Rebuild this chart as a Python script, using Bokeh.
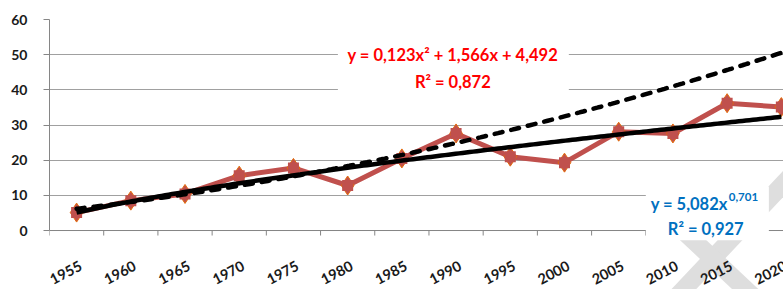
import numpy as np
from bokeh.plotting import figure
from bokeh.models import (Range1d, FixedTicker, Label, BoxAnnotation, PolyAnnotation)
from bokeh.core.properties import value
from bokeh.embed import file_html
from bokeh.resources import INLINE

# ---- data ----
years = ["1955", "1960", "1965", "1970", "1975", "1980", "1985",
         "1990", "1995", "2000", "2005", "2010", "2015", "2020"]
values = [5.1, 8.5, 10.4, 15.6, 17.8, 12.8, 20.5,
          27.6, 21.0, 19.3, 28.1, 27.6, 36.2, 35.1]
y_ticks = [0, 10, 20, 30, 40, 50, 60]

# trendline coefficients (as printed on the chart)
poly_a, poly_b, poly_c = 0.123, 1.566, 4.492
pow_a, pow_b = 5.082, 0.701

x_idx = list(range(1, len(years) + 1))
tx = np.linspace(1, len(years), 200)
poly_y = poly_a * tx ** 2 + poly_b * tx + poly_c
pow_y = pow_a * tx ** pow_b

FONT = "Lato"
RED = "#C0504D"
AXIS = "#868686"

# pixel scale helpers (decoration / layout only)
PX_PER_X = 54.2
PX_PER_Y = 3.517
Y_LOW = -270 / PX_PER_Y + 60   # frame extends below 0 to hold the category labels

p = figure(width=783, height=289, x_range=Range1d(0.5, 14.04), y_range=Range1d(Y_LOW, 60),
           output_backend="svg", toolbar_location=None, x_axis_location=None,
           min_border_left=49, min_border_right=0, min_border_top=19, min_border_bottom=0)
p.outline_line_color = None
p.background_fill_color = "white"
p.border_fill_color = "white"

# y axis
p.yaxis.ticker = FixedTicker(ticks=y_ticks)
p.yaxis.bounds = (0, 60)
p.yaxis.axis_line_color = AXIS
p.yaxis.major_tick_line_color = AXIS
p.yaxis.major_tick_out = 6
p.yaxis.major_tick_in = 0
p.yaxis.minor_tick_line_color = None
p.yaxis.major_label_standoff = 16
p.yaxis.major_label_text_font = FONT
p.yaxis.major_label_text_font_size = "14px"
p.yaxis.major_label_text_font_style = "bold"
p.yaxis.major_label_text_color = "#1a1a1a"

p.ygrid.ticker = FixedTicker(ticks=y_ticks)
p.ygrid.grid_line_color = "#A0A0A0"
p.xgrid.grid_line_color = None

# ---- watermark (decoration, page-pixel geometry converted to data units) ----
def to_data(px, py):
    return 1 + (px - 76) / PX_PER_X, (230 - py) / PX_PER_Y

def band(cx, cy, dx, dy, t0, t1, hw):
    n = np.hypot(dx, dy)
    ux, uy = dx / n, dy / n
    nx, ny = -uy, ux
    pts = [(cx + ux * t0 + nx * hw, cy + uy * t0 + ny * hw),
           (cx + ux * t1 + nx * hw, cy + uy * t1 + ny * hw),
           (cx + ux * t1 - nx * hw, cy + uy * t1 - ny * hw),
           (cx + ux * t0 - nx * hw, cy + uy * t0 - ny * hw)]
    d = [to_data(a, b) for a, b in pts]
    return [q[0] for q in d], [q[1] for q in d]

for (dx, dy, t0, t1) in [(1, -1.06, -60, 140), (1, 0.94, -40, 60)]:
    bx, by = band(712, 258, dx, dy, t0, t1, 9)
    p.add_layout(PolyAnnotation(xs=bx, ys=by, fill_color="#DEDEDE", fill_alpha=1.0,
                                line_color=None, level="underlay"))

# ---- category axis: line, ticks between categories, rotated labels ----
bounds = [i + 0.5 for i in range(0, len(years) + 1)]
tick_len = 5 / PX_PER_Y
p.segment(x0=[0.5], y0=[0], x1=[len(years) + 0.5], y1=[0], line_color=AXIS, line_width=1)
p.segment(x0=bounds, y0=[0] * len(bounds), x1=bounds, y1=[-tick_len] * len(bounds),
          line_color=AXIS, line_width=1)
p.text(x=[i + 4 / PX_PER_X for i in x_idx], y=[-34 / PX_PER_Y] * len(years), text=years,
       angle=0.48, text_align="right", text_baseline="middle",
       text_font=value(FONT), text_font_size="14.5px", text_font_style="bold",
       text_color="#1a1a1a")

# ---- series ----
p.line(x_idx, values, line_color=RED, line_width=5, line_join="round")
p.scatter(x_idx, values, marker="diamond", size=19, fill_color=RED, line_color="#E46C0A", line_width=1)
p.scatter(x_idx, values, marker="square", size=11, fill_color=RED, line_color=None)

p.line(tx, poly_y, line_color="black", line_width=4.5, line_dash="8 9", line_cap="round")
p.line(tx, pow_y, line_color="black", line_width=4.5)

# ---- equation boxes ----
p.add_layout(BoxAnnotation(left=5.82, right=10.08, bottom=38.1, top=52.9,
                           fill_color="white", fill_alpha=1, line_color=None))
p.add_layout(BoxAnnotation(left=11.5, right=13.77, bottom=-2.8, top=12.5,
                           fill_color="white", fill_alpha=1, line_color=None))

eq_kw = dict(text_font=FONT, text_font_style="bold", text_baseline="middle")
p.add_layout(Label(x=7.94, y=49.8, text="y = 0,123x² + 1,566x + 4,492", text_align="center",
                   text_color="#FF0000", text_font_size="16.5px", **eq_kw))
p.add_layout(Label(x=7.94, y=42.1, text="R² = 0,872", text_align="center",
                   text_color="#FF0000", text_font_size="16.5px", **eq_kw))

BLUE = "#0070C0"
p.add_layout(Label(x=1 + (727 - 76) / PX_PER_X, y=7.4, text="y = 5,082x", text_align="right",
                   text_color=BLUE, text_font_size="16.5px", **eq_kw))
p.add_layout(Label(x=1 + (728 - 76) / PX_PER_X, y=9.5, text="0,701", text_align="left",
                   text_color=BLUE, text_font_size="11.5px", **eq_kw))
p.add_layout(Label(x=1 + (705 - 76) / PX_PER_X, y=0.3, text="R² = 0,927", text_align="center",
                   text_color=BLUE, text_font_size="16.5px", **eq_kw))

open("out.html", "w").write(file_html(p, INLINE))
